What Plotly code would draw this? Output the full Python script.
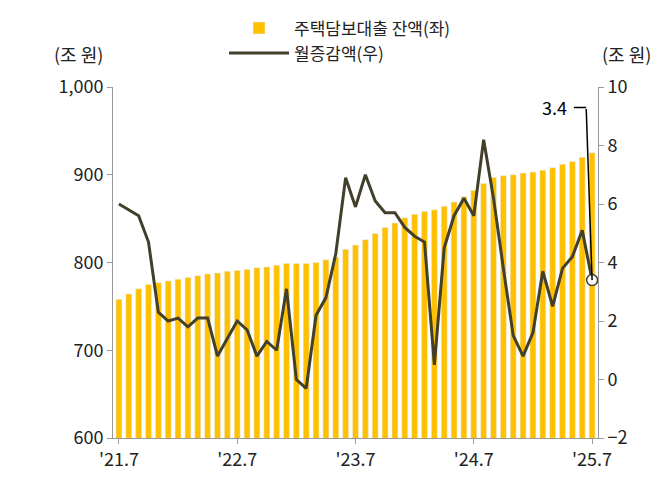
import plotly.graph_objects as go

balance = [758,764,770,775,777,779,781,783,785,787,788,790,791,792,794,795,797,799,799,799,800,803,806,815,820,826,833,840,845,851,855,858,860,864,869,875,882,890,897,899,900,902,903,905,908,912,915,920,925]
change = [6.0,5.8,5.6,4.7,2.3,2.0,2.1,1.8,2.1,2.1,0.8,1.4,2.0,1.7,0.8,1.3,1.0,3.1,0.0,-0.3,2.2,2.8,4.3,6.9,5.9,7.0,6.1,5.7,5.7,5.2,4.9,4.7,0.5,4.5,5.6,6.2,5.6,8.2,6.2,3.8,1.5,0.8,1.6,3.7,2.5,3.8,4.2,5.1,3.4]
tick_idx = [0,12,24,36,48]
tick_labels = ["'21.7","'22.7","'23.7","'24.7","'25.7"]
x = list(range(len(balance)))
font = "Noto Sans CJK KR"

fig = go.Figure()
fig.add_bar(x=x, y=balance, name="주택담보대출 잔액(좌)", marker_color="#FFC000", width=0.6)
fig.add_scatter(x=x, y=change, name="월증감액(우)", yaxis="y2", mode="lines",
                line=dict(color="#423F2B", width=3))
fig.add_scatter(x=[x[-1]], y=[change[-1]], yaxis="y2", mode="markers", showlegend=False,
                marker=dict(color="white", size=11, line=dict(color="#423F2B", width=1.5)))
fig.add_annotation(x=x[-1], y=change[-1], xref="x", yref="y2", ax=x[-1]-0.6, ay=9.3,
                   axref="x", ayref="y2", showarrow=True, arrowhead=0, arrowwidth=1.5,
                   arrowcolor="black", text="")
fig.add_annotation(x=x[-1]-0.6, y=9.3, xref="x", yref="y2", ax=x[-1]-2, ay=9.3,
                   axref="x", ayref="y2", showarrow=True, arrowhead=0, arrowwidth=1.5,
                   arrowcolor="black", text="")
fig.add_annotation(x=x[-1]-2.3, y=9.3, xref="x", yref="y2", text="3.4", showarrow=False,
                   xanchor="right", font=dict(size=18, color="black"))
fig.add_annotation(x=0, y=1.0, xref="paper", yref="paper", text="(조 원)", showarrow=False,
                   xanchor="right", yanchor="bottom", xshift=-8, yshift=18, font=dict(size=18))
fig.add_annotation(x=1, y=1.0, xref="paper", yref="paper", text="(조 원)", showarrow=False,
                   xanchor="left", yanchor="bottom", xshift=2, yshift=18, font=dict(size=18))

fig.update_layout(
    width=664, height=483, plot_bgcolor="white", paper_bgcolor="white",
    margin=dict(l=105, r=74, t=79, b=53, autoexpand=False),
    font=dict(family=font, size=18, color="#222"),
    bargap=0.4,
    legend=dict(x=0.5, y=0.995, xref="container", yref="container", xanchor="center",
                yanchor="top", bgcolor="rgba(0,0,0,0)", font=dict(size=17),
                traceorder="normal", itemwidth=60),
    xaxis=dict(tickvals=tick_idx, ticktext=tick_labels, range=[-0.6, 48.6], showline=True,
               linecolor="#999", ticks="outside", ticklen=5, tickcolor="#999", showgrid=False,
               automargin=False),
    yaxis=dict(range=[600, 1000], dtick=100, tickformat=",", showline=True, linecolor="#999",
               ticks="outside", ticklen=5, tickcolor="#999", showgrid=False, automargin=False),
    yaxis2=dict(range=[-2, 10], dtick=2, overlaying="y", side="right", showline=True,
                linecolor="#999", ticks="outside", ticklen=5, tickcolor="#999", showgrid=False,
                automargin=False),
)
fig.write_html("out.html")
